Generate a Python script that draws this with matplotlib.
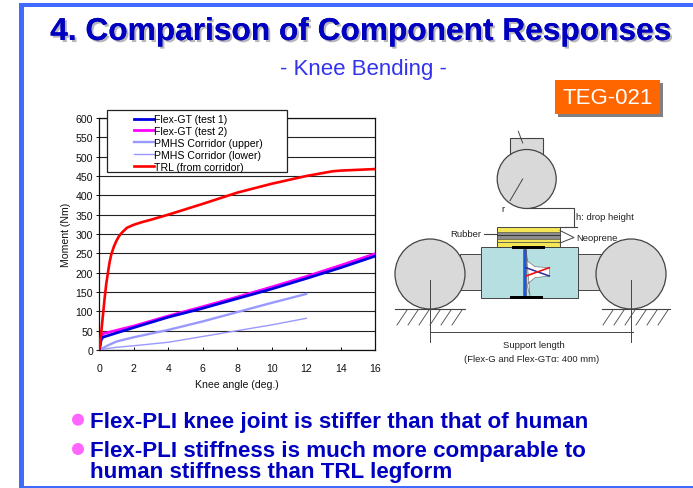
import matplotlib
matplotlib.use("Agg")
import matplotlib.pyplot as plt
import matplotlib.patheffects as pe
from matplotlib.patches import Rectangle, Circle, Polygon

plt.rcParams['font.family'] = ['Liberation Sans', 'DejaVu Sans']

# Data
flex1_x = [0, 0.1, 0.2, 2, 4, 6, 8, 10, 12, 14, 16]
flex1_y = [0, 25, 33, 58, 85, 108, 133, 158, 185, 213, 243]
flex2_x = [0, 0.1, 0.2, 2, 4, 6, 8, 10, 12, 14, 16]
flex2_y = [0, 30, 42, 62, 88, 112, 137, 163, 190, 219, 249]
upper_x = [0, 0.5, 1, 2, 4, 6, 8, 10, 12]
upper_y = [0, 12, 22, 33, 52, 74, 98, 122, 145]
lower_x = [0, 0.5, 1, 2, 4, 6, 8, 10, 12]
lower_y = [0, 4, 7, 11, 20, 35, 50, 65, 82]
trl_x = [0, 0.1, 0.2, 0.3, 0.4, 0.5, 0.6, 0.7, 0.85, 1, 1.15, 1.3, 1.6, 2, 2.5, 3, 4, 6, 8, 10, 12, 13, 13.5, 14, 16]
trl_y = [0, 40, 85, 130, 170, 200, 228, 248, 268, 283, 295, 303, 316, 324, 331, 337, 350, 378, 407, 430, 450, 458, 462, 464, 468]
series_names = ["Flex-GT (test 1)", "Flex-GT (test 2)", "PMHS Corridor (upper)",
                "PMHS Corridor (lower)", "TRL (from corridor)"]
x_ticks = list(range(0, 17, 2))
y_ticks = list(range(0, 601, 50))

W, H = 693, 489
fig = plt.figure(figsize=(W / 100, H / 100), dpi=100)

# Page overlay in pixel coordinates
page = fig.add_axes([0, 0, 1, 1], zorder=1)
page.set_xlim(0, W)
page.set_ylim(H, 0)
page.axis("off")

# Slide border
border = "#3f6cff"
page.add_patch(Rectangle((19, 3.5), W - 19, 4.5, color=border, lw=0))
page.add_patch(Rectangle((19, 3.5), 5, H - 4, color=border, lw=0))
page.add_patch(Rectangle((19, 486.5), W - 19, 2, color=border, lw=0))

# Headings
page.text(360.5, 33, "4. Comparison of Component Responses", color="#0000c0", fontsize=22.8,
          fontweight="bold", ha="center", va="center",
          path_effects=[pe.withSimplePatchShadow(offset=(1.5, -1.5), shadow_rgbFace="#999999", alpha=0.7), pe.Normal()])
page.text(363, 69, "- Knee Bending -", color="#3333ee", fontsize=16, ha="center", va="center")

page.add_patch(Rectangle((558, 84), 105, 34, color="#808080", lw=0))
page.add_patch(Rectangle((555, 81), 105, 34, color="#ff6600", lw=0))
page.text(607.5, 98, "TEG-021", color="white", fontsize=16, ha="center", va="center")

# Bullets
for yb in [420.7, 450]:
    page.add_patch(Circle((78, yb), 6, color="#ff66ff", lw=0))
bullet_kw = dict(color="#0000c0", fontsize=16.1, fontweight="bold", va="center", ha="left")
page.text(90.5, 422.5, "Flex-PLI knee joint is stiffer than that of human", **bullet_kw)
page.text(90.5, 452, "Flex-PLI stiffness is much more comparable to", **bullet_kw)
page.text(90.5, 472.5, "human stiffness than TRL legform", **bullet_kw)

# Schematic of the test rig
edge = "#444444"
grey = "#d9d9d9"
small = 6.8
page.add_patch(Rectangle((509.5, 138.5), 33, 18, fc=grey, ec=edge, lw=0.8))
page.add_patch(Circle((526.7, 180), 29.5, fc=grey, ec=edge, lw=0.9, zorder=3))
page.plot([518.3, 522.7], [132.3, 144], color=edge, lw=0.7)
page.plot([522.7, 510], [180, 201.7], color=edge, lw=0.7, zorder=4)
page.text(503, 209, "r", fontsize=small, color="#222222", ha="center", va="center")
page.plot([528, 574.3, 574.3], [209.3, 209.3, 228.3], color=edge, lw=0.8)
page.plot([560, 577], [228.3, 228.3], color=edge, lw=0.8)
page.text(576.5, 217.7, "h: drop height", fontsize=small, color="#222222", va="center")

# Side blocks and wheels
page.add_patch(Rectangle((460, 255), 21, 36, fc=grey, ec=edge, lw=0.7))
page.add_patch(Rectangle((577.7, 255), 24, 36, fc=grey, ec=edge, lw=0.7))
for cx in [430, 631]:
    page.add_patch(Circle((cx, 275), 35, fc=grey, ec=edge, lw=0.9, zorder=3))
    page.plot([cx, cx], [281, 343], color=edge, lw=0.7, zorder=4)

# Pad layers
page.add_patch(Rectangle((496.7, 228.3), 63, 19.4, fc="#f4e654", ec=edge, lw=0.7))
page.add_patch(Rectangle((496.7, 232.5), 63, 7, fc="#8c8c8c", ec=edge, lw=0.4))
page.plot([496.7, 559.7], [235.7, 235.7], color="#333333", lw=0.7)
page.plot([496.7, 559.7], [243, 243], color="#555555", lw=0.6)
page.text(450, 234.3, "Rubber", fontsize=small, color="#222222", va="center")
page.plot([484, 496.7], [235, 235], color=edge, lw=0.8)
page.plot([560, 574, 560], [231.5, 238.5, 244], color=edge, lw=0.7)
page.text(576.5, 238.7, "Neoprene", fontsize=small, color="#222222", va="center")

# Knee block
page.add_patch(Rectangle((480.7, 247.7), 97, 51, fc="#b5dfe0", ec=edge, lw=0.7))
page.add_patch(Polygon([(526, 250), (527.5, 262), (535, 267.7), (549.3, 268.7), (549.3, 277),
                        (535, 278.7), (527, 285.3), (530, 297)], fc="white", ec="#777777", lw=0.5))
page.add_patch(Rectangle((522.7, 250), 3.3, 47, fc="#2255dd", ec="#555555", lw=0.4))
page.plot([526, 549.3], [268.7, 277], color="#2a2a99", lw=1.1)
page.plot([526, 549.3], [277, 268.7], color="#ee1111", lw=1.2)
page.add_patch(Rectangle((512, 247.3), 33, 3, color="black", lw=0))
page.add_patch(Rectangle((510, 297), 32.7, 3, color="black", lw=0))

# Ground and support length
for x0, x1 in [(395, 465), (601.7, 670)]:
    page.plot([x0, x1], [309.7, 309.7], color=edge, lw=0.8, zorder=4)
    for xh in range(int(x0) + 2, int(x1) - 8, 11):
        page.plot([xh, xh + 10], [326, 311], color=edge, lw=0.6)
page.plot([430, 632.7], [333.3, 333.3], color=edge, lw=0.7)
page.text(534, 345, "Support length", fontsize=small, color="#222222", ha="center", va="center")
page.text(532, 359, "(Flex-G and Flex-GT\u03b1: 400 mm)", fontsize=small, color="#222222", ha="center", va="center")

# Chart
ax = fig.add_axes([99.3 / W, 1 - 351 / H, 276 / W, 232 / H], zorder=2)
ax.patch.set_alpha(0)
ax.plot(flex1_x, flex1_y, color="#0000e0", lw=2.0, label=series_names[0], zorder=4)
ax.plot(flex2_x, flex2_y, color="#ff00ff", lw=2.0, label=series_names[1], zorder=3.5)
ax.plot(upper_x, upper_y, color="#9999ff", lw=1.7, label=series_names[2], zorder=3)
ax.plot(lower_x, lower_y, color="#9999ff", lw=1.0, label=series_names[3], zorder=3)
ax.plot(trl_x, trl_y, color="#ff0000", lw=1.9, label=series_names[4], zorder=4)
ax.set_xlim(0, 16)
ax.set_ylim(0, 600)
ax.set_xticks(x_ticks)
ax.set_yticks(y_ticks)
ax.grid(axis="y", color="#222222", lw=0.8)
ax.set_axisbelow(True)
ax.tick_params(axis="x", direction="in", length=2.5, width=0.7, labelsize=7.6, pad=9.5, colors="#111111")
ax.tick_params(axis="y", direction="out", length=2.5, width=0.7, labelsize=7.6, pad=2, colors="#111111")
for s in ax.spines.values():
    s.set_linewidth(0.9)
    s.set_color("#111111")
ax.set_xlabel("Knee angle (deg.)", fontsize=7.6, labelpad=4.5, color="#111111")
ax.set_ylabel("Moment (Nm)", fontsize=7.6, labelpad=3, color="#111111")

# Legend box sits over the top of the axes
ax.add_patch(Rectangle((106.7, 111), 180, 61.7, transform=page.transData, fc="white", ec="#222222",
                       lw=0.9, clip_on=False, zorder=5))
handles, labels = ax.get_legend_handles_labels()
leg = ax.legend(handles, labels, frameon=False, fontsize=7.6, loc="upper left",
                bbox_to_anchor=(126.5 / W, 1 - 108 / H), bbox_transform=fig.transFigure,
                labelspacing=0.17, handlelength=1.9, handletextpad=0.05, borderpad=0.2)
leg.set_zorder(6)

fig.savefig("out.png", dpi=100)
